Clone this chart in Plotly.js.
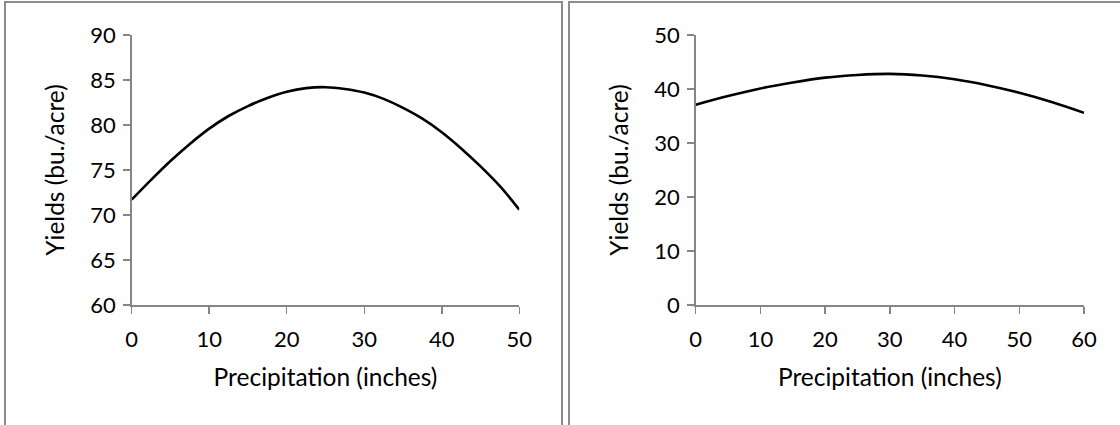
<!DOCTYPE html>
<html>
<head>
<meta charset="utf-8">
<script src="https://cdn.plot.ly/plotly-3.0.1.min.js"></script>
<style>html,body{margin:0;padding:0;background:#fff;}#chart{width:1120px;height:425px;}</style>
</head>
<body>
<div id="chart"></div>
<script>
// Left panel: yield vs precipitation (0-50 inches)
const leftPrecip = [0, 2.5, 5, 7.5, 10, 12.5, 15, 17.5, 20, 22.5, 25, 27.5, 30, 32.5, 35, 37.5, 40, 42.5, 45, 47.5, 50];
const leftYield  = [71.7, 73.9, 76.0, 77.9, 79.6, 81.0, 82.1, 83.0, 83.7, 84.1, 84.2, 84.0, 83.6, 82.9, 81.9, 80.7, 79.2, 77.4, 75.4, 73.2, 70.6];
// Right panel: yield vs precipitation (0-60 inches)
const rightPrecip = [0, 5, 10, 15, 20, 25, 30, 35, 40, 45, 50, 55, 60];
const rightYield  = [37.1, 38.7, 40.1, 41.2, 42.1, 42.6, 42.8, 42.5, 41.8, 40.7, 39.3, 37.6, 35.6];

const xTitle = 'Precipitation (inches)';
const yTitle = 'Yields (bu./acre)';
const leftXTicks = [0, 10, 20, 30, 40, 50];
const leftYTicks = [60, 65, 70, 75, 80, 85, 90];
const rightXTicks = [0, 10, 20, 30, 40, 50, 60];
const rightYTicks = [0, 10, 20, 30, 40, 50];

const FONT = 'Lato, "Open Sans", sans-serif';
const AXC = '#868686';
const TICK_SIZE = 22, TITLE_SIZE = 24.5;

function axisBase(extra) {
  return Object.assign({
    showgrid: false, zeroline: false, showline: true, linecolor: AXC, linewidth: 1.5,
    ticks: 'outside', ticklen: 7, tickwidth: 1.5, tickcolor: AXC,
    tickfont: {family: FONT, size: TICK_SIZE, color: '#000'},
    tickmode: 'array', fixedrange: true
  }, extra);
}

const traces = [
  {x: leftPrecip, y: leftYield, xaxis: 'x', yaxis: 'y', mode: 'lines', line: {color: '#000', width: 2.6, shape: 'spline'}, hoverinfo: 'skip'},
  {x: rightPrecip, y: rightYield, xaxis: 'x2', yaxis: 'y2', mode: 'lines', line: {color: '#000', width: 2.6, shape: 'spline'}, hoverinfo: 'skip'}
];

const W = 1120, H = 425;
const px = v => v / W, py = v => 1 - v / H;
const titleFont = {family: FONT, size: TITLE_SIZE, color: '#000'};

const layout = {
  width: W, height: H,
  margin: {l: 0, r: 0, t: 0, b: 0},
  paper_bgcolor: '#fff', plot_bgcolor: 'rgba(0,0,0,0)',
  showlegend: false,
  font: {family: FONT, color: '#000'},
  xaxis: axisBase({domain: [px(131.7), px(519.3)], range: [0, 50], tickvals: leftXTicks, anchor: 'y',
    ticklabelstandoff: 7,
    title: {text: xTitle, font: titleFont, standoff: 18}}),
  yaxis: axisBase({domain: [py(305), py(35)], range: [60, 90], tickvals: leftYTicks, anchor: 'x',
    ticklabelstandoff: 3,
    title: {text: yTitle, font: titleFont, standoff: 18}}),
  xaxis2: axisBase({domain: [px(695.7), px(1084)], range: [0, 60], tickvals: rightXTicks, anchor: 'y2',
    ticklabelstandoff: 7,
    title: {text: xTitle, font: titleFont, standoff: 18}}),
  yaxis2: axisBase({domain: [py(305), py(35)], range: [0, 50], tickvals: rightYTicks, anchor: 'x2',
    ticklabelstandoff: 3,
    title: {text: yTitle, font: titleFont, standoff: 18}}),
  shapes: [
    {type: 'rect', xref: 'paper', yref: 'paper', x0: px(5), x1: px(562), y0: py(440), y1: py(2),
      line: {color: '#8c8c8c', width: 2}, fillcolor: 'rgba(0,0,0,0)', layer: 'below'},
    {type: 'rect', xref: 'paper', yref: 'paper', x0: px(569), x1: px(1135), y0: py(440), y1: py(2),
      line: {color: '#8c8c8c', width: 2}, fillcolor: 'rgba(0,0,0,0)', layer: 'below'}
  ]
};

Plotly.newPlot('chart', traces, layout, {displayModeBar: false, staticPlot: true});
</script>
</body>
</html>
